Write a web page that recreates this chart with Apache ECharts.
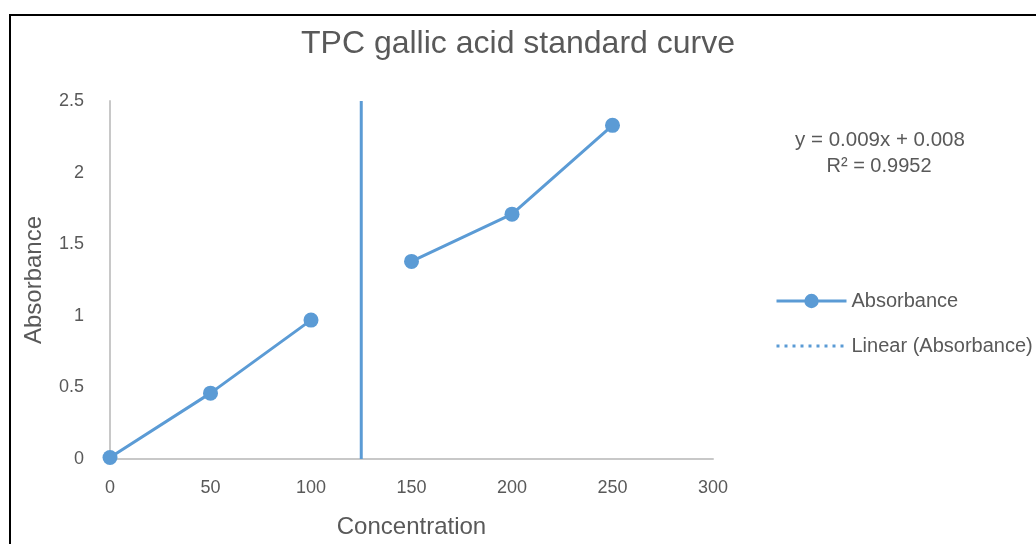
<!DOCTYPE html>
<html>
<head>
<meta charset="utf-8">
<script src="https://cdn.jsdelivr.net/npm/echarts@6/dist/echarts.min.js"></script>
<style>
  html, body { margin: 0; padding: 0; background: #fff; }
  #chart { width: 1036px; height: 544px; }
</style>
</head>
<body>
<div id="chart"></div>
<script>
// ---- data ----
const concentration = [0, 50, 100, 125, 150, 200, 250];
const absorbance = [0.01, 0.46, 0.97, null, 1.38, 1.71, 2.33];
const dividerX = [125, 125];
const dividerY = [0, 2.5];
const xTicks = [0, 50, 100, 150, 200, 250, 300];
const yTicks = [0, 0.5, 1, 1.5, 2, 2.5];
const titleText = 'TPC gallic acid standard curve';
const equationLines = ['y = 0.009x + 0.008', 'R² = 0.9952'];
const seriesNames = ['Absorbance', 'Linear (Absorbance)'];

const FONT = "'Liberation Sans', Arial, sans-serif";
const TXT = '#595959';
const BLUE = '#5B9BD5';

const chart = echarts.init(document.getElementById('chart'), null, { renderer: 'canvas' });

const absData = concentration.map((x, i) => [x, absorbance[i] === null ? '-' : absorbance[i]]);
const divData = dividerX.map((x, i) => [x, dividerY[i]]);

chart.setOption({
  backgroundColor: '#fff',
  animation: false,
  title: {
    text: titleText,
    left: 'center',
    top: 23,
    textStyle: { fontFamily: FONT, fontSize: 32, fontWeight: 'normal', color: TXT }
  },
  grid: { left: 110, right: 323, top: 101, bottom: 85, containLabel: false },
  xAxis: {
    type: 'value',
    min: xTicks[0], max: xTicks[xTicks.length - 1], interval: xTicks[1] - xTicks[0],
    name: 'Concentration',
    nameLocation: 'middle',
    nameGap: 56,
    nameTextStyle: { fontFamily: FONT, fontSize: 24, color: TXT },
    axisLine: { show: true, lineStyle: { color: '#C8C8C8', width: 2 } },
    axisTick: { show: false },
    splitLine: { show: false },
    axisLabel: { fontFamily: FONT, fontSize: 18, color: TXT, margin: 20 }
  },
  yAxis: {
    type: 'value',
    min: yTicks[0], max: yTicks[yTicks.length - 1], interval: yTicks[1] - yTicks[0],
    name: 'Absorbance',
    nameLocation: 'middle',
    nameGap: 64,
    nameTextStyle: { fontFamily: FONT, fontSize: 24, color: TXT },
    axisLine: { show: true, lineStyle: { color: '#C8C8C8', width: 2 } },
    axisTick: { show: false },
    splitLine: { show: false },
    axisLabel: { fontFamily: FONT, fontSize: 18, color: TXT, margin: 26 }
  },
  legend: {
    data: [
      { name: seriesNames[0], lineStyle: { width: 3 } },
      { name: seriesNames[1], itemStyle: { color: 'rgba(0,0,0,0)', borderWidth: 0 }, lineStyle: { width: 3, type: [3, 5] } }
    ],
    orient: 'vertical',
    left: 770,
    top: 286,
    itemWidth: 70,
    itemHeight: 18,
    itemGap: 25,
    textStyle: { fontFamily: FONT, fontSize: 20, color: TXT }
  },
  graphic: [
    {
      type: 'rect',
      z: -10,
      shape: { x: 10, y: 15, width: 1200, height: 800 },
      style: { fill: 'none', stroke: '#000', lineWidth: 2 }
    },
    {
      type: 'text',
      x: 880, y: 140,
      style: { text: equationLines[0], fontFamily: FONT, fontSize: 20.5, fill: TXT, align: 'center', verticalAlign: 'middle' }
    },
    {
      type: 'text',
      x: 879, y: 166,
      style: { text: equationLines[1], fontFamily: FONT, fontSize: 20, fill: TXT, align: 'center', verticalAlign: 'middle' }
    }
  ],
  series: [
    {
      name: seriesNames[0],
      type: 'line',
      data: absData,
      connectNulls: false,
      symbol: 'circle',
      symbolSize: 15,
      itemStyle: { color: BLUE },
      lineStyle: { color: BLUE, width: 3 },
      z: 3
    },
    {
      name: 'divider',
      type: 'line',
      data: divData,
      symbol: 'none',
      lineStyle: { color: BLUE, width: 3 },
      z: 2
    },
    {
      name: seriesNames[1],
      type: 'line',
      data: [],
      symbol: 'none',
      itemStyle: { color: BLUE },
      lineStyle: { color: BLUE, width: 3, type: [3, 5] }
    }
  ]
});
</script>
</body>
</html>
